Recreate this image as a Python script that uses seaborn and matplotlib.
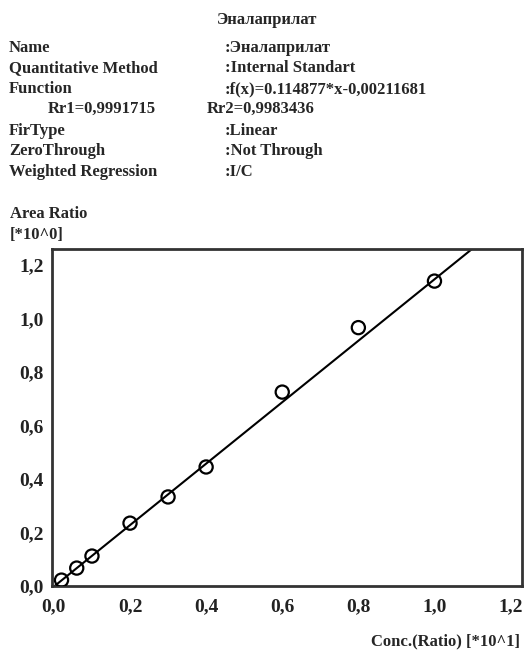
import numpy as np
import pandas as pd
import seaborn as sns
import matplotlib.pyplot as plt
from matplotlib.ticker import FuncFormatter

# calibration points
conc = [0.02, 0.06, 0.1, 0.2, 0.3, 0.4, 0.6, 0.8, 1.0]
area_ratio = [0.022, 0.067, 0.112, 0.235, 0.333, 0.445, 0.725, 0.966, 1.14]

# fit f(x) = a*x + b, x in [*10^1] units on the axis
slope = 0.114877
intercept = -0.00211681
fit_x = [0.0, 1.25]

title = 'Эналаприлат'
info_rows = [
    ('Name', ':Эналаприлат'),
    ('Quantitative Method', ':Internal Standart'),
    ('Function', ':f(x)=0.114877*x-0,00211681'),
    (None, None),
    ('FirType', ':Linear'),
    ('ZeroThrough', ':Not Through'),
    ('Weighted Regression', ':I/C'),
]
rr_text = ('Rr1=0,9991715', 'Rr2=0,9983436')

xticks = [0.0, 0.2, 0.4, 0.6, 0.8, 1.0, 1.2]
yticks = [0.0, 0.2, 0.4, 0.6, 0.8, 1.0, 1.2]

sns.set_style('white')
plt.rcParams['font.family'] = ['Liberation Serif', 'DejaVu Serif']
plt.rcParams['font.weight'] = 'bold'

W, H = 528, 650
FS = 12
fig = plt.figure(figsize=(W / 100, H / 100), dpi=100)
ax = fig.add_axes([52 / W, 1 - 586 / H, (522 - 52) / W, (586 - 249) / H])

pts = pd.DataFrame({'conc': conc, 'ratio': area_ratio})
line = pd.DataFrame({'x': fit_x, 'y': [slope * 10 * v + intercept for v in fit_x]})

sns.lineplot(data=line, x='x', y='y', color='black', linewidth=1.5, ax=ax)
sns.scatterplot(data=pts, x='conc', y='ratio', marker='o', s=90,
                facecolor='none', edgecolor='black', linewidth=1.6, ax=ax, zorder=3)

ax.set_xlim(-0.005, 1.23)
ax.set_ylim(0.0, 1.26)
ax.set_xticks(xticks)
ax.set_yticks(yticks)
comma = FuncFormatter(lambda v, p: f'{v:.1f}'.replace('.', ','))
ax.xaxis.set_major_formatter(comma)
ax.yaxis.set_major_formatter(comma)
ax.tick_params(length=0, labelsize=14, colors='#222222')
ax.tick_params(axis='x', pad=9)
ax.tick_params(axis='y', pad=6)
for lbl in ax.get_xticklabels() + ax.get_yticklabels():
    lbl.set_fontweight('bold')
ax.set_xlabel('')
ax.set_ylabel('')
for s in ax.spines.values():
    s.set_linewidth(2)
    s.set_color('#333333')

def fy(py):
    return 1 - py / H

fig.text(267 / W, fy(20), title, ha='center', va='center', fontsize=FS, weight='bold')
row_y = [48, 68, 89, 109, 131, 151, 172]
for (lab, val), py in zip(info_rows, row_y):
    if lab is None:
        fig.text(48 / W, fy(py), rr_text[0], ha='left', va='center', fontsize=FS, weight='bold')
        fig.text(207 / W, fy(py), rr_text[1], ha='left', va='center', fontsize=FS, weight='bold')
        continue
    fig.text(9 / W, fy(py), lab, ha='left', va='center', fontsize=FS, weight='bold')
    fig.text(225 / W, fy(py), val, ha='left', va='center', fontsize=FS, weight='bold')

fig.text(10 / W, fy(214), 'Area Ratio', ha='left', va='center', fontsize=FS, weight='bold')
fig.text(10 / W, fy(235), '[*10^0]', ha='left', va='center', fontsize=FS, weight='bold')
fig.text(520 / W, fy(641), 'Conc.(Ratio) [*10^1]', ha='right', va='center', fontsize=FS, weight='bold')

fig.savefig('out.png', dpi=100)
